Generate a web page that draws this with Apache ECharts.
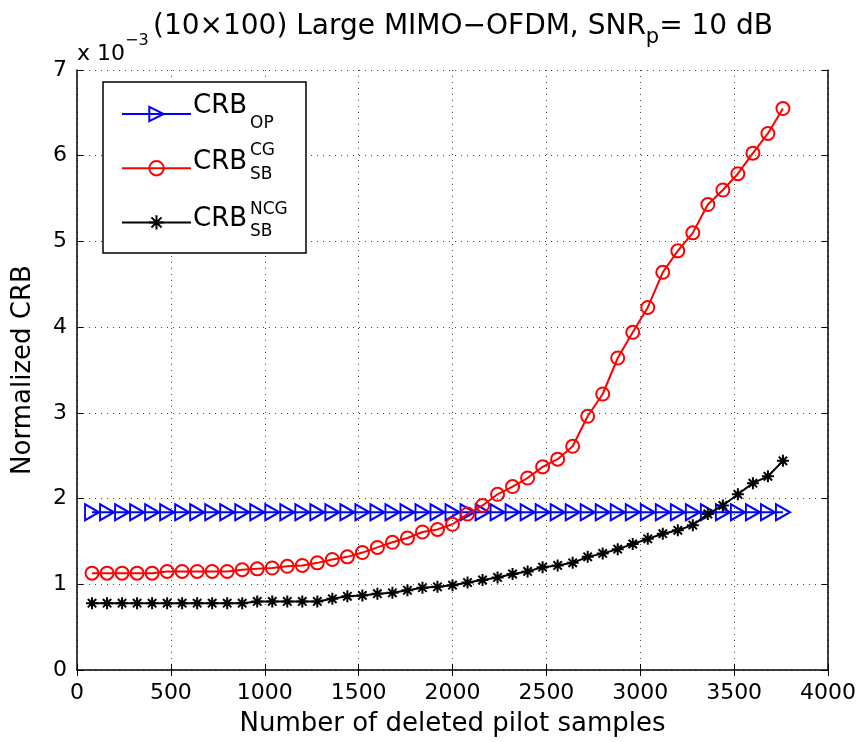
<!DOCTYPE html>
<html>
<head>
<meta charset="utf-8">
<script src="https://cdn.jsdelivr.net/npm/echarts@6/dist/echarts.min.js"></script>
<style>html,body{margin:0;padding:0;background:#fff}#c{width:861px;height:742px}</style>
</head>
<body>
<div id="c"></div>
<script>
// ---- data ----
var xSamples = [80,160,240,320,400,480,560,640,720,800,880,960,1040,1120,1200,1280,1360,1440,1520,1600,1680,1760,1840,1920,2000,2080,2160,2240,2320,2400,2480,2560,2640,2720,2800,2880,2960,3040,3120,3200,3280,3360,3440,3520,3600,3680,3760];
var crbOP = [1.84,1.84,1.84,1.84,1.84,1.84,1.84,1.84,1.84,1.84,1.84,1.84,1.84,1.84,1.84,1.84,1.84,1.84,1.84,1.84,1.84,1.84,1.84,1.84,1.84,1.84,1.84,1.84,1.84,1.84,1.84,1.84,1.84,1.84,1.84,1.84,1.84,1.84,1.84,1.84,1.84,1.84,1.84,1.84,1.84,1.84,1.84];
var crbCG = [1.13,1.13,1.13,1.13,1.13,1.15,1.15,1.15,1.15,1.15,1.17,1.18,1.19,1.21,1.22,1.25,1.29,1.32,1.37,1.43,1.49,1.54,1.61,1.64,1.70,1.82,1.92,2.05,2.14,2.24,2.37,2.46,2.61,2.96,3.22,3.64,3.94,4.23,4.64,4.89,5.10,5.43,5.60,5.79,6.03,6.26,6.55];
var crbNCG = [0.78,0.78,0.78,0.78,0.78,0.78,0.78,0.78,0.78,0.78,0.78,0.80,0.80,0.80,0.80,0.80,0.83,0.86,0.87,0.89,0.90,0.93,0.96,0.97,0.99,1.02,1.05,1.08,1.12,1.15,1.20,1.22,1.25,1.32,1.36,1.41,1.47,1.53,1.59,1.63,1.69,1.82,1.92,2.05,2.18,2.26,2.44];
var xTicks = [0,500,1000,1500,2000,2500,3000,3500,4000];
var yTicks = [0,1,2,3,4,5,6,7];
var seriesNames = ['CRB_OP','CRB_SB_CG','CRB_SB_NCG'];

var FONT = '"DejaVu Sans", "Liberation Sans", Arial, sans-serif';

function pairs(xs, ys){ var out=[]; for(var i=0;i<xs.length;i++){ out.push([xs[i], ys[i]]); } return out; }

var chart = echarts.init(document.getElementById('c'), null, {renderer:'canvas'});

var gridLine = {show:true, lineStyle:{color:'#444', width:1, type:[1,5]}};
var option = {
  backgroundColor:'#fff',
  animation:false,
  textStyle:{fontFamily:FONT, color:'#000'},
  grid:{left:77, right:33, top:70, bottom:72, containLabel:false},
  xAxis:[{
    type:'value', min:xTicks[0], max:xTicks[xTicks.length-1], interval:500, position:'bottom',
    name:'Number of deleted pilot samples', nameLocation:'middle', nameGap:41,
    nameTextStyle:{fontSize:26, color:'#000', fontFamily:FONT},
    axisLine:{show:true, onZero:false, lineStyle:{color:'#000', width:1.5}},
    axisTick:{show:true, inside:true, length:6, lineStyle:{color:'#000', width:1}},
    axisLabel:{fontSize:22, color:'#000', margin:12, fontFamily:FONT, formatter:function(v){ return String(v); }},
    splitLine:gridLine
  },{
    type:'value', min:xTicks[0], max:xTicks[xTicks.length-1], interval:500, position:'top',
    axisLine:{show:false},
    axisTick:{show:true, inside:true, length:6, lineStyle:{color:'#000', width:1}},
    axisLabel:{show:false}, splitLine:{show:false}
  }],
  yAxis:[{
    type:'value', min:yTicks[0], max:yTicks[yTicks.length-1], interval:1, position:'left',
    name:'Normalized CRB', nameLocation:'middle', nameGap:41,
    nameTextStyle:{fontSize:26, color:'#000', fontFamily:FONT},
    axisLine:{show:true, onZero:false, lineStyle:{color:'#000', width:1.5}},
    axisTick:{show:true, inside:true, length:6, lineStyle:{color:'#000', width:1}},
    axisLabel:{fontSize:22, color:'#000', margin:10, fontFamily:FONT},
    splitLine:gridLine
  },{
    type:'value', min:yTicks[0], max:yTicks[yTicks.length-1], interval:1, position:'right',
    axisLine:{show:true, onZero:false, lineStyle:{color:'#000', width:1.5}},
    axisTick:{show:true, inside:true, length:6, lineStyle:{color:'#000', width:1}},
    axisLabel:{show:false}, splitLine:{show:false}
  }],
  legend:{
    orient:'vertical', left:116, top:100, itemWidth:69, itemHeight:18, itemGap:37,
    selectedMode:false, z:6,
    formatter:function(){ return ''; },
    textStyle:{fontSize:1},
    lineStyle:{width:2},
    itemStyle:{borderWidth:2},
    data:seriesNames
  },
  graphic:[
    {type:'rect', z:5, shape:{x:103, y:82, width:203, height:171}, style:{fill:'#fff', stroke:'#000', lineWidth:1.5}},
    {type:'text', z:7, x:193, y:106, style:{text:'CRB', font:'26px '+FONT, fill:'#000', verticalAlign:'middle', align:'left'}},
    {type:'text', z:7, x:250, y:124, style:{text:'OP', font:'17px '+FONT, fill:'#000', verticalAlign:'middle', align:'left'}},
    {type:'text', z:7, x:193, y:162, style:{text:'CRB', font:'26px '+FONT, fill:'#000', verticalAlign:'middle', align:'left'}},
    {type:'text', z:7, x:250, y:151, style:{text:'CG', font:'17px '+FONT, fill:'#000', verticalAlign:'middle', align:'left'}},
    {type:'text', z:7, x:250, y:175, style:{text:'SB', font:'17px '+FONT, fill:'#000', verticalAlign:'middle', align:'left'}},
    {type:'text', z:7, x:193, y:219, style:{text:'CRB', font:'26px '+FONT, fill:'#000', verticalAlign:'middle', align:'left'}},
    {type:'text', z:7, x:250, y:210, style:{text:'NCG', font:'17px '+FONT, fill:'#000', verticalAlign:'middle', align:'left'}},
    {type:'text', z:7, x:250, y:232, style:{text:'SB', font:'17px '+FONT, fill:'#000', verticalAlign:'middle', align:'left'}},
    {type:'text', z:7, x:463, y:7, style:{
      text:'{a|(10×100) Large MIMO−OFDM, SNR}{p|p}{a|= 10 dB}', align:'center', verticalAlign:'top',
      rich:{a:{fontSize:28, lineHeight:40, fontFamily:FONT, color:'#000'},
            p:{fontSize:21, lineHeight:21, padding:[21,0,0,0], fontFamily:FONT, color:'#000'}}
    }},
    {type:'text', z:7, x:77, y:33, style:{
      text:'{m|x 10}{e|−3}', align:'left', verticalAlign:'top',
      rich:{m:{fontSize:22, lineHeight:42, fontFamily:FONT, color:'#000'},
            e:{fontSize:16, lineHeight:16, padding:[0,0,26,0], fontFamily:FONT, color:'#000'}}
    }}
  ],
  series:[
    {name:seriesNames[0], type:'line', data:pairs(xSamples, crbOP), xAxisIndex:0, yAxisIndex:0, z:2,
     symbol:'path://M0,0L14,8L0,16Z', symbolSize:[14,16], symbolKeepAspect:false,
     lineStyle:{color:'#0000ff', width:2},
     itemStyle:{color:'rgba(0,0,0,0)', borderColor:'#0000ff', borderWidth:2}},
    {name:seriesNames[1], type:'line', data:pairs(xSamples, crbCG), xAxisIndex:0, yAxisIndex:0, z:3,
     symbol:'circle', symbolSize:13,
     lineStyle:{color:'#ff0000', width:2},
     itemStyle:{color:'rgba(0,0,0,0)', borderColor:'#ff0000', borderWidth:2}},
    {name:seriesNames[2], type:'line', data:pairs(xSamples, crbNCG), xAxisIndex:0, yAxisIndex:0, z:4,
     symbol:'path://M0,-10L0,10M-10,0L10,0M-7,-7L7,7M-7,7L7,-7', symbolSize:12,
     lineStyle:{color:'#000', width:2},
     itemStyle:{color:'#000', borderColor:'#000', borderWidth:2}}
  ]
};
chart.setOption(option);
</script>
</body>
</html>
